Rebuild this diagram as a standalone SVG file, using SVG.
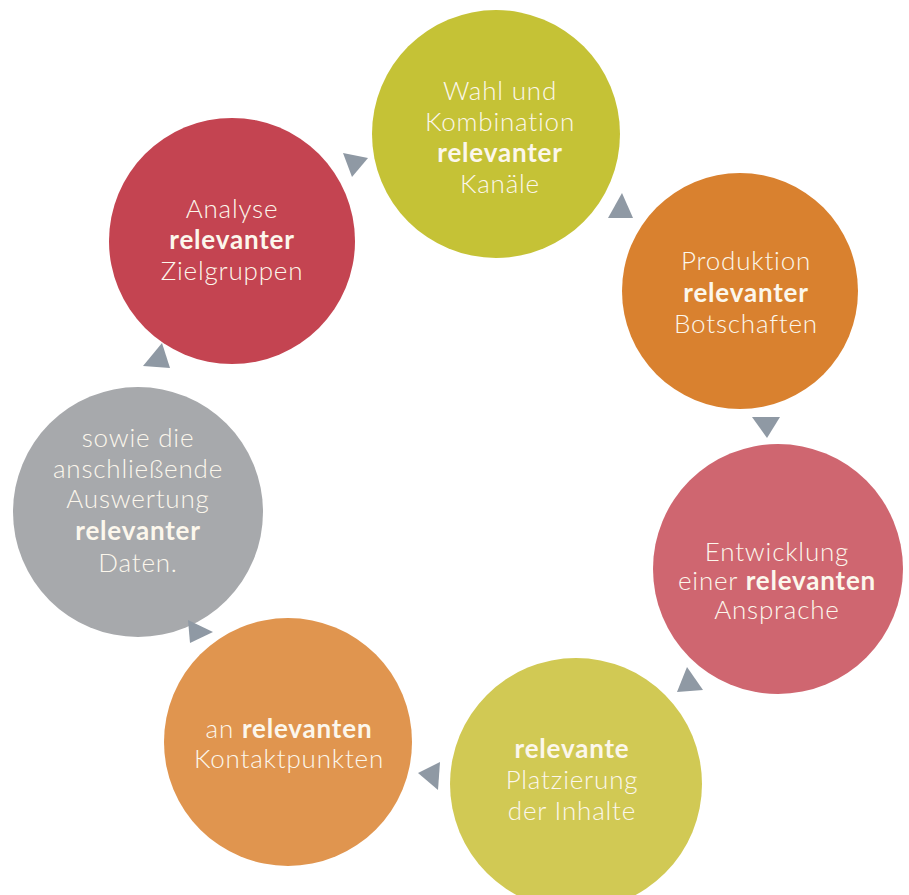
<svg xmlns="http://www.w3.org/2000/svg" width="909" height="895" viewBox="0 0 909 895">
  <style>
    .lbl { font-family: Lato, "Liberation Sans", sans-serif; font-size: 26px; font-weight: 300; fill: #fcf7ec; text-anchor: middle; letter-spacing: 0.8px; }
    .b { font-weight: 700; }
    .arrow { fill: #8f99a4; }
  </style>
  <rect width="909" height="895" fill="#ffffff"/>

  <!-- Cycle steps -->
  <g id="node-analyse">
    <circle cx="232" cy="241" r="123" fill="#c44451"/>
    <text class="lbl" x="232" y="218">Analyse</text>
    <text class="lbl b" x="232" y="249">relevanter</text>
    <text class="lbl" x="232" y="280">Zielgruppen</text>
  </g>

  <g id="node-kanaele">
    <circle cx="496" cy="134" r="124" fill="#c5c236"/>
    <text class="lbl" x="500" y="100">Wahl und</text>
    <text class="lbl" x="500" y="131">Kombination</text>
    <text class="lbl b" x="500" y="162">relevanter</text>
    <text class="lbl" x="500" y="193">Kanäle</text>
  </g>

  <g id="node-botschaften">
    <circle cx="740" cy="291" r="118" fill="#d9812f"/>
    <text class="lbl" x="746" y="270">Produktion</text>
    <text class="lbl b" x="746" y="302">relevanter</text>
    <text class="lbl" x="746" y="333">Botschaften</text>
  </g>

  <g id="node-ansprache">
    <circle cx="778" cy="569" r="125" fill="#cf6670"/>
    <text class="lbl" x="777" y="561">Entwicklung</text>
    <text class="lbl" x="777" y="590">einer <tspan class="b">relevanten</tspan></text>
    <text class="lbl" x="777" y="619">Ansprache</text>
  </g>

  <g id="node-platzierung">
    <circle cx="576" cy="784" r="126" fill="#d1c954"/>
    <text class="lbl b" x="572" y="758">relevante</text>
    <text class="lbl" x="572" y="789">Platzierung</text>
    <text class="lbl" x="572" y="820">der Inhalte</text>
  </g>

  <g id="node-kontaktpunkte">
    <circle cx="288" cy="742" r="124" fill="#e0954f"/>
    <text class="lbl" x="289" y="738">an <tspan class="b">relevanten</tspan></text>
    <text class="lbl" x="289" y="768">Kontaktpunkten</text>
  </g>

  <g id="node-auswertung">
    <circle cx="138" cy="512" r="125" fill="#a7a9ac"/>
    <text class="lbl" x="138" y="447">sowie die</text>
    <text class="lbl" x="138" y="478">anschließende</text>
    <text class="lbl" x="138" y="508">Auswertung</text>
    <text class="lbl b" x="138" y="540">relevanter</text>
    <text class="lbl" x="138" y="572">Daten.</text>
  </g>

  <!-- Direction arrows between the steps -->
  <g id="connectors">
    <polygon class="arrow" points="343,153 368,158 352,177"/>
    <polygon class="arrow" points="622,193 608,218 633,218"/>
    <polygon class="arrow" points="752,417 780,417 767,438"/>
    <polygon class="arrow" points="687,667 677,692 703,690"/>
    <polygon class="arrow" points="440,762 418,773 438,790"/>
    <polygon class="arrow" points="188,620 213,632 190,643"/>
    <polygon class="arrow" points="162,343 143,366 170,368"/>
  </g>
</svg>
